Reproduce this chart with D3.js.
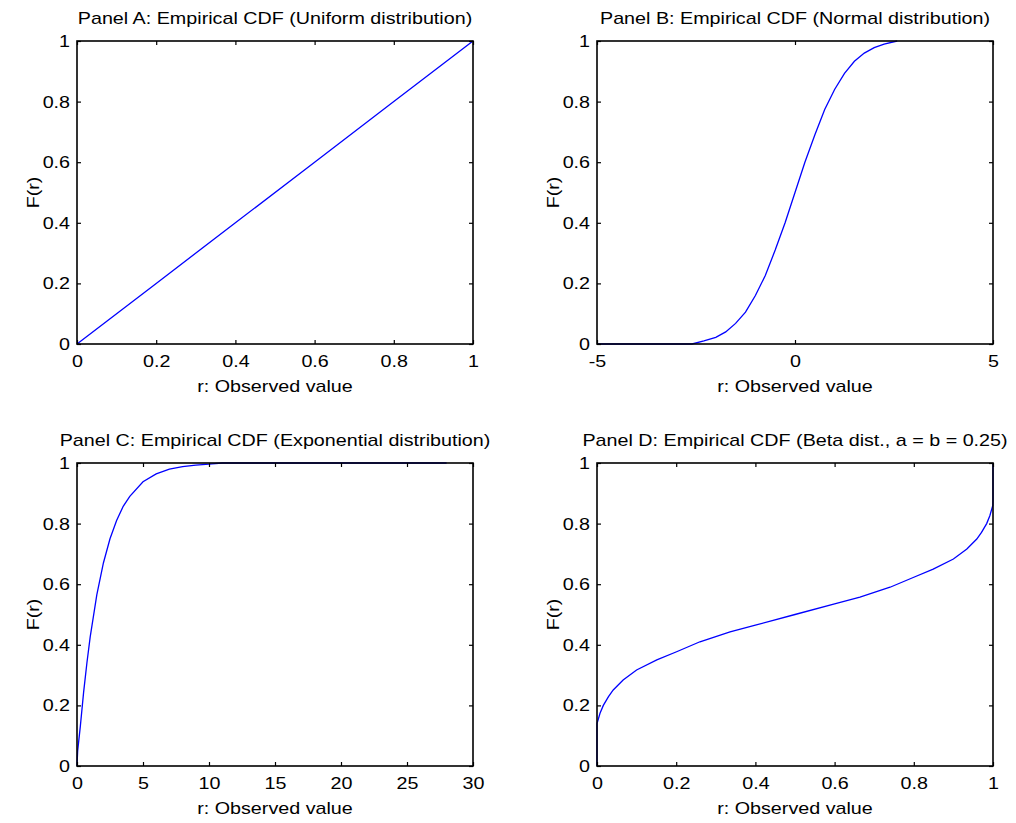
<!DOCTYPE html>
<html>
<head>
<meta charset="utf-8">
<script src="https://cdn.jsdelivr.net/npm/d3@7"></script>
<style>
  html, body { margin: 0; padding: 0; background: #fff; }
  svg { display: block; }
  text { font-family: "Liberation Sans", Arial, sans-serif; fill: #000; }
</style>
</head>
<body>
<script>
// ---- Data ----
const titles = [
  "Panel A: Empirical CDF (Uniform distribution)",
  "Panel B: Empirical CDF (Normal distribution)",
  "Panel C: Empirical CDF (Exponential distribution)",
  "Panel D: Empirical CDF (Beta dist., a = b = 0.25)"
];
const xLabel = "r: Observed value";
const yLabel = "F(r)";

const uniformR = [0, 0.2, 0.4, 0.6, 0.8, 1];
const uniformF = [0, 0.2, 0.4, 0.6, 0.8, 1];

const normalR = [-5, -2.6, -2.3, -2.0, -1.75, -1.5, -1.25, -1.0, -0.75, -0.5, -0.25, 0, 0.25, 0.5, 0.75, 1.0, 1.25, 1.5, 1.75, 2.0, 2.25, 2.58];
const normalF = [0, 0, 0.01, 0.022, 0.04, 0.068, 0.105, 0.16, 0.226, 0.31, 0.40, 0.50, 0.60, 0.69, 0.774, 0.84, 0.893, 0.933, 0.96, 0.978, 0.99, 1.0];

const expR = [0, 0.05, 0.25, 0.5, 0.75, 1, 1.5, 2, 2.5, 3, 3.5, 4, 5, 6, 7, 8, 9, 10, 11, 28];
const expF = [0, 0.05, 0.13, 0.243, 0.34, 0.426, 0.565, 0.67, 0.75, 0.81, 0.857, 0.89, 0.938, 0.964, 0.98, 0.988, 0.993, 0.996, 1.0, 1.0];

const betaR = [0, 0, 0.0076, 0.016, 0.029, 0.041, 0.066, 0.10, 0.151, 0.201, 0.26, 0.336, 0.4, 0.5, 0.6, 0.664, 0.74, 0.8, 0.849, 0.9, 0.934, 0.959, 0.971, 0.984, 0.992, 0.9995, 1, 1];
const betaF = [0, 0.14, 0.174, 0.20, 0.229, 0.251, 0.284, 0.317, 0.35, 0.377, 0.41, 0.443, 0.465, 0.50, 0.535, 0.557, 0.59, 0.623, 0.65, 0.683, 0.716, 0.749, 0.771, 0.80, 0.826, 0.86, 0.88, 1.0];

const xTicksA = [0, 0.2, 0.4, 0.6, 0.8, 1];
const xTicksB = [-5, 0, 5];
const xTicksC = [0, 5, 10, 15, 20, 25, 30];
const xTicksD = [0, 0.2, 0.4, 0.6, 0.8, 1];
const yTicks = [0, 0.2, 0.4, 0.6, 0.8, 1];

const panels = [
  { title: titles[0], r: uniformR, f: uniformF, xDomain: [0, 1], xTicks: xTicksA, box: [77, 41, 473, 344] },
  { title: titles[1], r: normalR, f: normalF, xDomain: [-5, 5], xTicks: xTicksB, box: [597, 41, 993, 344] },
  { title: titles[2], r: expR, f: expF, xDomain: [0, 30], xTicks: xTicksC, box: [77, 463, 473, 766] },
  { title: titles[3], r: betaR, f: betaF, xDomain: [0, 1], xTicks: xTicksD, box: [597, 463, 993, 766] }
];

const W = 1016, H = 823;
const svg = d3.select("body").append("svg").attr("width", W).attr("height", H);
const fmt = v => String(+v.toFixed(2));
const FS = 17;
const SX = 1.16; // horizontal stretch to match reference glyph widths

panels.forEach(p => {
  const [x0, y0, x1, y1] = p.box;
  const x = d3.scaleLinear().domain(p.xDomain).range([x0, x1]);
  const y = d3.scaleLinear().domain([0, 1]).range([y1, y0]);
  const g = svg.append("g");

  // curve
  const pts = p.r.map((r, i) => [r, p.f[i]]);
  g.append("path")
    .datum(pts)
    .attr("fill", "none")
    .attr("stroke", "#0000ff")
    .attr("stroke-width", 1.3)
    .attr("d", d3.line().x(d => x(d[0])).y(d => y(d[1])));

  // axes with inward ticks
  const tickLen = 4;
  const bottom = g.append("g").attr("transform", `translate(0,${y1})`)
    .call(d3.axisBottom(x).tickValues(p.xTicks).tickSizeInner(-tickLen).tickSizeOuter(0).tickPadding(11).tickFormat(fmt));
  const top = g.append("g").attr("transform", `translate(0,${y0})`)
    .call(d3.axisTop(x).tickValues(p.xTicks).tickSizeInner(-tickLen).tickSizeOuter(0).tickFormat(""));
  const left = g.append("g").attr("transform", `translate(${x0},0)`)
    .call(d3.axisLeft(y).tickValues(yTicks).tickSizeInner(-tickLen).tickSizeOuter(0).tickPadding(6).tickFormat(fmt));
  const right = g.append("g").attr("transform", `translate(${x1},0)`)
    .call(d3.axisRight(y).tickValues(yTicks).tickSizeInner(-tickLen).tickSizeOuter(0).tickFormat(""));
  [bottom, top, left, right].forEach(a => {
    a.select(".domain").remove();
    a.selectAll(".tick line").attr("stroke", "#000").attr("stroke-width", 1.2);
    a.selectAll("text").attr("font-size", FS).attr("font-family", "Liberation Sans, Arial, sans-serif").attr("fill", "#000")
      .attr("transform", `scale(${SX},1)`);
  });
  bottom.selectAll("text").attr("dy", "0.71em");

  // box
  g.append("rect")
    .attr("x", x0).attr("y", y0).attr("width", x1 - x0).attr("height", y1 - y0)
    .attr("fill", "none").attr("stroke", "#000").attr("stroke-width", 1.6);

  // title
  g.append("text")
    .attr("transform", `translate(${(x0 + x1) / 2},${y0 - 17}) scale(${SX},1)`)
    .attr("text-anchor", "middle").attr("font-size", FS)
    .text(p.title);

  // x label
  g.append("text")
    .attr("transform", `translate(${(x0 + x1) / 2},${y1 + 48}) scale(${SX},1)`)
    .attr("text-anchor", "middle").attr("font-size", FS)
    .text(xLabel);

  // y label
  g.append("text")
    .attr("transform", `translate(${x0 - 38},${(y0 + y1) / 2}) rotate(-90) scale(${SX},1)`)
    .attr("text-anchor", "middle").attr("font-size", FS)
    .text(yLabel);
});
</script>
</body>
</html>
